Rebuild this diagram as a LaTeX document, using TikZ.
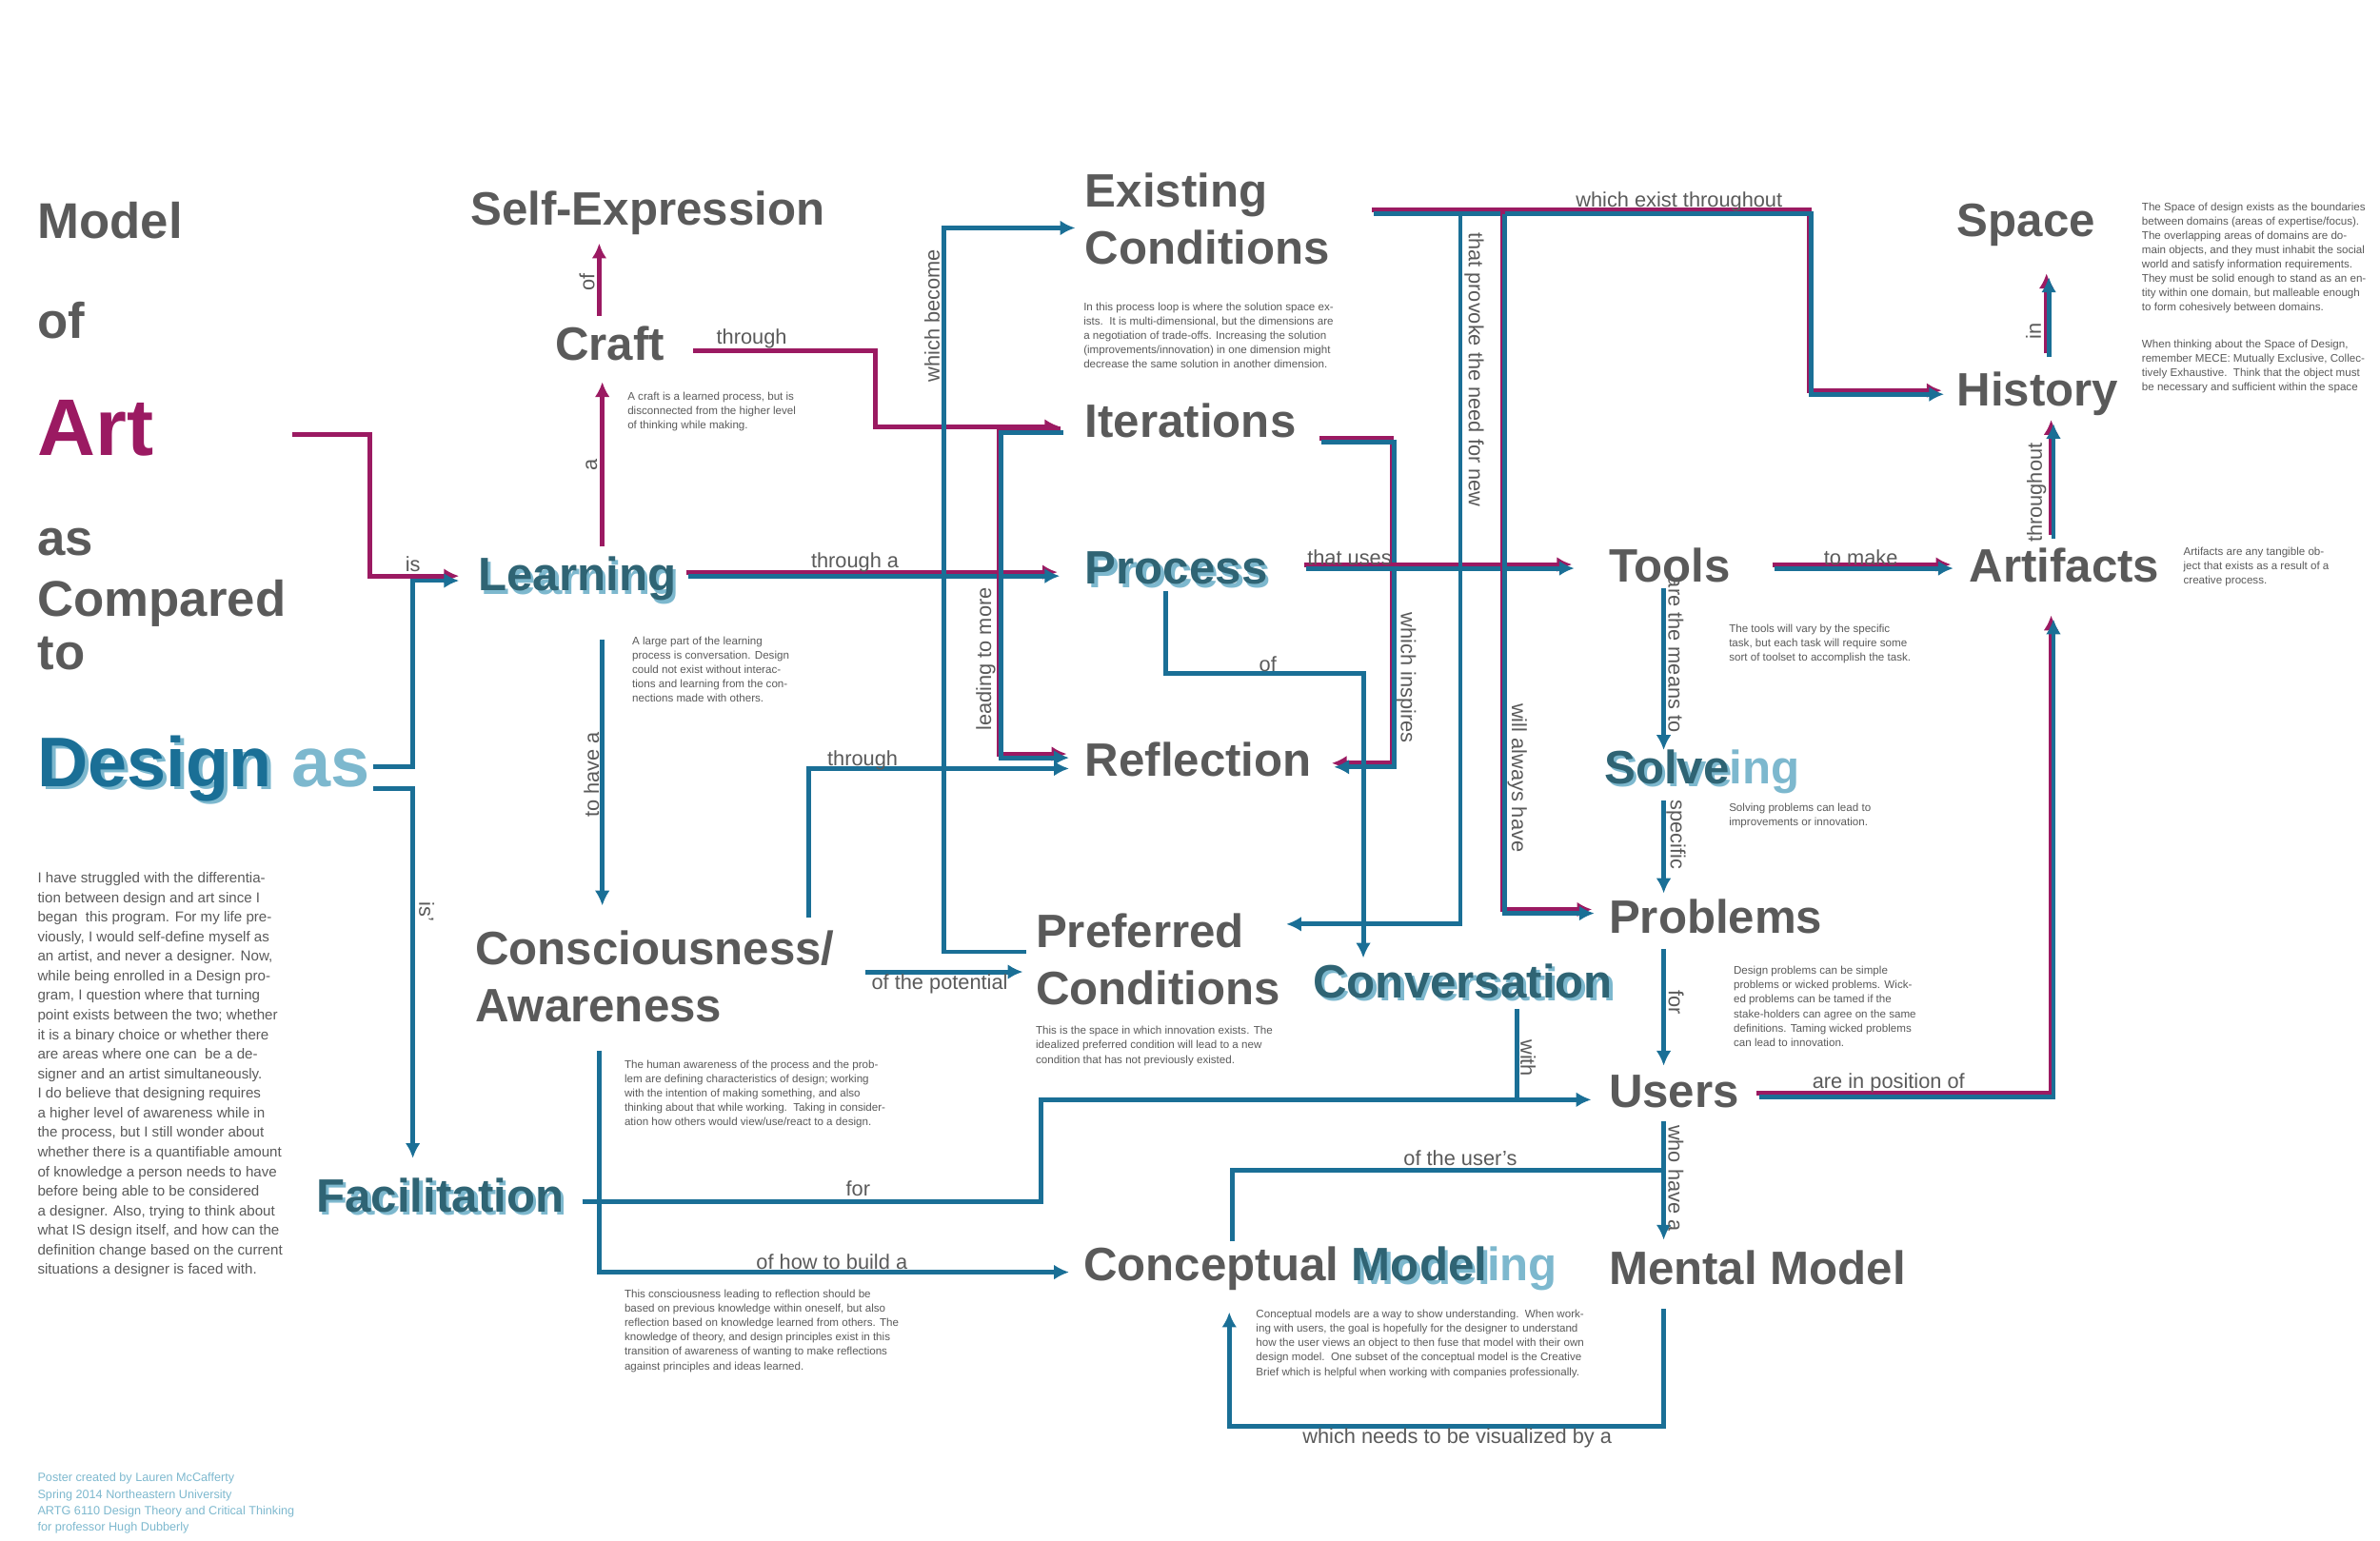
\documentclass[tikz,border=0pt]{standalone}
\usepackage{fontspec}
\setmainfont{Liberation Sans}
\usetikzlibrary{arrows.meta}
\definecolor{bl}{HTML}{1A6F96}
\definecolor{mg}{HTML}{9B1A62}
\definecolor{gy}{HTML}{5A5A5A}
\definecolor{lb}{HTML}{7DB8CE}
\definecolor{dk}{HTML}{2F6474}
\newcommand\shd[1]{\makebox[0pt][l]{\hspace{1pt}\raisebox{-1pt}{\color{lb}#1}}#1}
\newcommand\duo[1]{\draw[mgl,shift={(-1.5,-2.5)}] #1; \draw[bll] #1;}
\tikzset{
  big/.style={anchor=west,inner sep=0pt,text=gy,font=\fontsize{14}{17}\selectfont\bfseries,align=left},
  shdw/.style={big,text=dk},
  lab/.style={inner sep=1pt,text=gy,font=\fontsize{6.2}{7}\selectfont},
  desc/.style={anchor=north west,inner sep=0pt,text=gy,align=left,font=\fontsize{3.3}{4.3}\selectfont},
  bll/.style={draw=bl,line width=1.4pt,-{Latex[length=4.5pt,width=4.5pt]}},
  mgl/.style={draw=mg,line width=1.4pt,-{Latex[length=4.5pt,width=4.5pt]}},
}
\begin{document}
\begin{tikzpicture}[x=0.01618cm,y=-0.01618cm]
\useasboundingbox (0,0) rectangle (1545,1000);

% title column
\node[big,font=\fontsize{15}{18}\selectfont\bfseries] (model) at (24,143) {Model};
\node[big,font=\fontsize{15}{18}\selectfont\bfseries] (of) at (24,208) {of};
\node[big,text=mg,font=\fontsize{24}{28}\selectfont\bfseries] (art) at (24,278) {Art};
\node[big,font=\fontsize{15}{18}\selectfont\bfseries] (as) at (24,352) {as};
\node[big,font=\fontsize{15}{18}\selectfont\bfseries,align=left] (comp) at (24,406) {Compared\\[-2pt]to};
\node[big,text=bl,font=\fontsize{21}{25}\selectfont\bfseries] (design) at (24,500) {\shd{Design} \textcolor{lb}{as}};
\node[desc,font=\fontsize{4.3}{5.85}\selectfont] (intro) at (24,566) {I have struggled with the differentia-\\tion between design and art since I\\began\ \ this program. For my life pre-\\viously, I would self-define myself as\\an artist, and never a designer. Now,\\while being enrolled in a Design pro-\\gram, I question where that turning\\point exists between the two; whether\\it is a binary choice or whether there\\are areas where one can\ \ be a de-\\signer and an artist simultaneously.\\I do believe that designing requires\\a higher level of awareness while in\\the process, but I still wonder about\\whether there is a quantifiable amount\\of knowledge a person needs to have\\before being able to be considered\\a designer. Also, trying to think about\\what IS design itself, and how can the\\definition change based on the current\\situations a designer is faced with.};
\node[desc,text=lb,font=\fontsize{3.6}{4.9}\selectfont] (credit) at (24,956) {Poster created by Lauren McCafferty\\Spring 2014 Northeastern University\\ARTG 6110 Design Theory and Critical Thinking\\for professor Hugh Dubberly};

% concepts
\node[big] (selfex) at (305,138) {Self-Expression};
\node[big] (craft) at (360,223) {Craft};
\node[shdw] (learn) at (310,377) {\shd{Learning}};
\node[big] (consc) at (308,634) {Consciousness/\\Awareness};
\node[shdw] (facil) at (205,777) {\shd{Facilitation}};
\node[big] (exist) at (704,142) {Existing\\Conditions};
\node[big] (iter) at (704,273) {Iterations};
\node[shdw] (proc) at (704,370) {\shd{Process}};
\node[big] (refl) at (704,493) {Reflection};
\node[big] (pref) at (672,623) {Preferred\\Conditions};
\node[shdw] (conv) at (852,638) {\shd{Conversation}};
\node[big] (cmod) at (703,824) {Conceptual \textcolor{dk}{\shd{Model}}\textcolor{lb}{ing}};
\node[big] (tools) at (1044,367) {Tools};
\node[big] (solv) at (1041,501) {\textcolor{dk}{\shd{Solve}}\textcolor{lb}{ing}};
\node[big] (prob) at (1044,595) {Problems};
\node[big] (users) at (1044,709) {Users};
\node[big] (mental) at (1044,823) {Mental Model};
\node[big] (space) at (1270,146) {Space};
\node[big] (hist) at (1270,256) {History};
\node[big] (artif) at (1278,367) {Artifacts};

% notes
\node[desc] (dcraft) at (407,254) {A craft is a learned process, but is\\disconnected from the higher level\\of thinking while making.};
\node[desc] (dlearn) at (410,413) {A large part of the learning\\process is conversation. Design\\could not exist without interac-\\tions and learning from the con-\\nections made with others.};
\node[desc] (dexist) at (703,196) {In this process loop is where the solution space ex-\\ists.\ \ It is multi-dimensional, but the dimensions are\\a negotiation of trade-offs. Increasing the solution\\(improvements/innovation) in one dimension might\\decrease the same solution in another dimension.};
\node[desc] (dconsc) at (405,688) {The human awareness of the process and the prob-\\lem are defining characteristics of design; working\\with the intention of making something, and also\\thinking about that while working.\ \ Taking in consider-\\ation how others would view/use/react to a design.};
\node[desc] (dpref) at (672,666) {This is the space in which innovation exists. The\\idealized preferred condition will lead to a new\\condition that has not previously existed.};
\node[desc] (dbuild) at (405,837) {This consciousness leading to reflection should be\\based on previous knowledge within oneself, but also\\reflection based on knowledge learned from others. The\\knowledge of theory, and design principles exist in this\\transition of awareness of wanting to make reflections\\against principles and ideas learned.};
\node[desc] (dcmod) at (815,850) {Conceptual models are a way to show understanding.\ \ When work-\\ing with users, the goal is hopefully for the designer to understand\\how the user views an object to then fuse that model with their own\\design model.\ \ One subset of the conceptual model is the Creative\\Brief which is helpful when working with companies professionally.};
\node[desc] (dtools) at (1122,405) {The tools will vary by the specific\\task, but each task will require some\\sort of toolset to accomplish the task.};
\node[desc] (dsolv) at (1122,521) {Solving problems can lead to\\improvements or innovation.};
\node[desc] (dprob) at (1125,627) {Design problems can be simple\\problems or wicked problems. Wick-\\ed problems can be tamed if the\\stake-holders can agree on the same\\definitions. Taming wicked problems\\can lead to innovation.};
\node[desc] (dspace) at (1390,131) {The Space of design exists as the boundaries\\between domains (areas of expertise/focus).\\The overlapping areas of domains are do-\\main objects, and they must inhabit the social\\world and satisfy information requirements.\\They must be solid enough to stand as an en-\\tity within one domain, but malleable enough\\to form cohesively between domains.};
\node[desc] (dmece) at (1390,220) {When thinking about the Space of Design,\\remember MECE: Mutually Exclusive, Collec-\\tively Exhaustive.\ \ Think that the object must\\be necessary and sufficient within the space};
\node[desc] (dartif) at (1417,355) {Artifacts are any tangible ob-\\ject that exists as a result of a\\creative process.};

% connectors
\draw[mgl] (190,282) -- (240,282) -- (240,374) -- (298,374);
\draw[bll] (242,498) -- (268,498) -- (268,377) -- (298,377);
\draw[bll] (242,512) -- (268,512) -- (268,752);
\node[lab] at (268,366) {is};
\node[lab,rotate=-90] at (277,592) {is'};
\draw[mgl] (391,355) -- (391,248);
\node[lab,rotate=90] at (384,302) {a};
\draw[mgl] (389,205) -- (389,158);
\node[lab,rotate=90] at (381,183) {of};
\draw[mgl] (450,228) -- (568,228) -- (568,277) -- (688,277);
\node[lab] at (488,220) {through};
\duo{(447,374) -- (688,374)}
\node[lab] at (555,365) {through a};
\draw[bll] (391,415) -- (391,588);
\node[lab,rotate=90] at (384,503) {to have a};
\draw[bll] (525,596) -- (525,499) -- (694,499);
\node[lab] at (560,494) {through};
\draw[bll] (562,631) -- (664,631);
\node[lab] at (610,639) {of the potential};
\draw[bll] (378,780) -- (676,780) -- (676,714) -- (1033,714);
\node[lab] at (557,772) {for};
\draw[bll] (389,682) -- (389,826) -- (694,826);
\node[lab] at (540,819) {of how to build a};
\draw[bll] (666,618) -- (613,618) -- (613,148) -- (698,148);
\node[lab,rotate=90] at (605,205) {which become};
\duo{(690,281) -- (650,281) -- (650,492) -- (694,492)}
\node[lab,rotate=90] at (640,428) {leading to more};
\duo{(858,287) -- (905,287) -- (905,498) -- (866,498)}
\node[lab,rotate=-90] at (913,440) {which inspires};
\duo{(848,369) -- (1022,369)}
\node[lab] at (876,362) {that uses};
\draw[bll] (757,384) -- (757,437) -- (885,437) -- (885,622);
\node[lab] at (823,431) {of};
\duo{(892,139) -- (1176,139) -- (1176,256) -- (1262,256)}
\node[lab] at (1090,131) {which exist throughout};
\draw[bll] (948,139) -- (948,600) -- (835,600);
\node[lab,rotate=-90] at (957,240) {that provoke the need for new};
\duo{(977,139) -- (977,593) -- (1035,593)}
\node[lab,rotate=-90] at (985,505) {will always have};
\duo{(1152,369) -- (1268,369)}
\node[lab] at (1208,362) {to make};
\duo{(1333,350) -- (1333,275)}
\node[lab,rotate=90] at (1322,320) {throughout};
\duo{(1330,232) -- (1330,180)}
\node[lab,rotate=90] at (1320,215) {in};
\draw[bll] (1080,382) -- (1080,487);
\node[lab,rotate=-90] at (1088,425) {are the means to};
\draw[bll] (1080,520) -- (1080,580);
\node[lab,rotate=-90] at (1088,542) {specific};
\draw[bll] (1080,616) -- (1080,692);
\node[lab,rotate=-90] at (1088,651) {for};
\draw[bll,-] (985,655) -- (985,714);
\node[lab,rotate=-90] at (992,687) {with};
\duo{(1142,712) -- (1333,712) -- (1333,402)}
\node[lab] at (1226,703) {are in position of};
\draw[bll] (1080,728) -- (1080,805);
\node[lab,rotate=-90] at (1088,765) {who have a};
\draw[bll,-] (800,806) -- (800,760) -- (1080,760);
\node[lab] at (948,752) {of the user's};
\draw[bll] (1080,850) -- (1080,926) -- (798,926) -- (798,852);
\node[lab] at (946,934) {which needs to be visualized by a};
\end{tikzpicture}
\end{document}
